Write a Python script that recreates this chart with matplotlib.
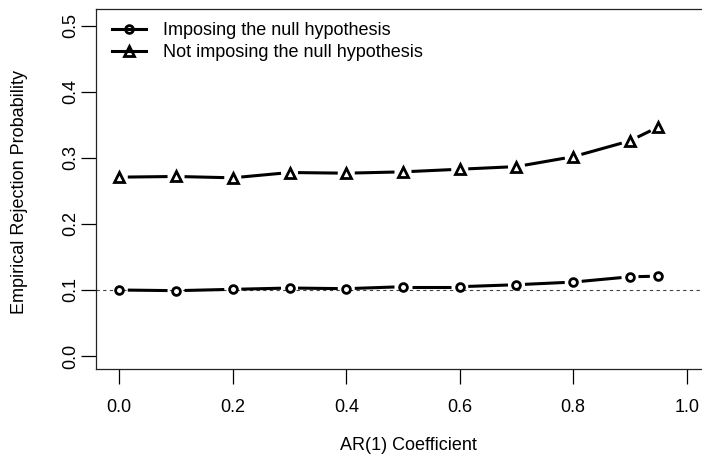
import numpy as np
import matplotlib
matplotlib.use("Agg")
import matplotlib.pyplot as plt
from matplotlib.lines import Line2D

plt.rcParams['font.family'] = ['Liberation Sans', 'DejaVu Sans']

ar_coef = [0.0, 0.1, 0.2, 0.3, 0.4, 0.5, 0.6, 0.7, 0.8, 0.9, 0.95]
imposing = [0.100, 0.099, 0.101, 0.103, 0.102, 0.105, 0.105, 0.108, 0.112, 0.120, 0.121]
not_imposing = [0.271, 0.272, 0.270, 0.278, 0.277, 0.279, 0.283, 0.287, 0.302, 0.326, 0.347]
labels = ["Imposing the null hypothesis", "Not imposing the null hypothesis"]
xticks = [0.0, 0.2, 0.4, 0.6, 0.8, 1.0]
yticks = [0.0, 0.1, 0.2, 0.3, 0.4, 0.5]
null_level = 0.1

W, H = 702, 457
DPI = 100
fig = plt.figure(figsize=(W / DPI, H / DPI), dpi=DPI)
left, right, top, bottom = 95.7, 709.4, 9.3, 369.0
ax = fig.add_axes([left / W, 1 - bottom / H, (right - left) / W, (bottom - top) / H])
ax.set_xlim(-0.0416, 1.04)
ax.set_ylim(-0.0197, 0.5253)

ax.axhline(null_level, color='#444444', lw=0.8, ls=(0, (3, 3)), zorder=1)

LW = 2.2


def gapped_line(xs, ys, gap_px):
    # R type="b": segments stop short of each point
    pts = ax.transData.transform(np.column_stack([xs, ys]))
    inv = ax.transData.inverted()
    for p0, p1 in zip(pts[:-1], pts[1:]):
        d = p1 - p0
        u = d / np.hypot(*d)
        seg = inv.transform(np.array([p0 + u * gap_px, p1 - u * gap_px]))
        ax.plot(seg[:, 0], seg[:, 1], color='black', lw=LW, zorder=2,
                solid_capstyle='butt')


for ys, mk, ms in [(imposing, 'o', 5.6), (not_imposing, '^', 6.8)]:
    gapped_line(ar_coef, ys, 8.5)
    ax.plot(ar_coef, ys, ls='none', marker=mk, ms=ms, mfc='white', mec='black',
            mew=2.0, zorder=4)

handles = [
    Line2D([], [], color='black', lw=LW, marker='o', ms=5.6, mfc='none', mec='black', mew=2.0),
    Line2D([], [], color='black', lw=LW, marker='^', ms=6.8, mfc='none', mec='black', mew=2.0),
]
ax.legend(handles, labels, loc='upper left', frameon=False, fontsize=13,
          handlelength=1.9, handletextpad=0.9, labelspacing=0.3,
          borderaxespad=0.0, bbox_to_anchor=(0.015, 0.985))

ax.set_xticks(xticks)
ax.set_xticklabels([f"{v:.1f}" for v in xticks])
ax.set_yticks(yticks)
ax.set_yticklabels([f"{v:.1f}" for v in yticks], rotation=90, va='center')
ax.tick_params(axis='both', direction='out', length=10.7, width=0.9, labelsize=13, colors='black')
ax.tick_params(axis='x', pad=11)
ax.tick_params(axis='y', pad=1.5)
for s in ax.spines.values():
    s.set_linewidth(0.9)
    s.set_color('#222222')

fig.text(408 / W, 1 - 445 / H, "AR(1) Coefficient", ha='center', va='center', fontsize=13)
fig.text(20 / W, 1 - 192 / H, "Empirical Rejection Probability", ha='center', va='center',
         rotation=90, fontsize=13)

fig.savefig("out.png", dpi=DPI)
